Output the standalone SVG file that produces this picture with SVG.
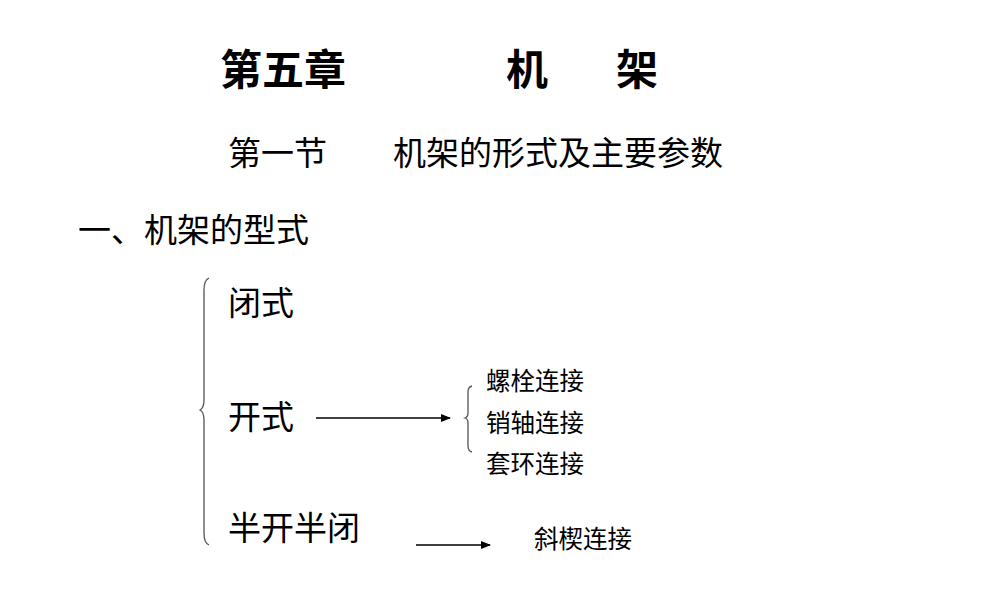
<svg xmlns="http://www.w3.org/2000/svg" width="1000" height="600" viewBox="0 0 1000 600">
<style>
text{font-family:"Noto Sans CJK SC","Noto Sans",sans-serif;fill:#000}
.t{font-size:42px;font-weight:bold}
.m{font-size:33px}
.s{font-size:24.5px}
.ln{stroke:#000;stroke-width:1.3;fill:none}
.br{stroke:#555;stroke-width:1.3;fill:none}
</style>
<defs><marker id="a" markerWidth="10" markerHeight="8" refX="9" refY="4" orient="auto" markerUnits="userSpaceOnUse"><path d="M0,0L10,4L0,8z" fill="#000"/></marker></defs>
<rect width="1000" height="600" fill="#fff"/>
<g id="title"><text class="t" x="220" y="85">第五章</text><text class="t" x="506" y="85">机</text><text class="t" x="616" y="85">架</text></g>
<g id="section"><text class="m" x="228" y="165">第一节</text><text class="m" x="393" y="165">机架的形式及主要参数</text></g>
<g id="heading"><text class="m" x="78" y="242">一、机架的型式</text></g>
<g id="n1"><text class="m" x="228" y="315">闭式</text></g>
<g id="n2"><text class="m" x="228" y="429">开式</text></g>
<g id="n3"><text class="m" x="228" y="540">半开半闭</text></g>
<g id="n4"><text class="s" x="486" y="390">螺栓连接</text></g>
<g id="n5"><text class="s" x="486" y="432">销轴连接</text></g>
<g id="n6"><text class="s" x="486" y="473">套环连接</text></g>
<g id="n7"><text class="s" x="534" y="548">斜楔连接</text></g>
<g id="connectors">
<path class="br" d="M209,278 Q204,280 204,290 L204,400 Q204,408 200,410 Q204,412 204,420 L204,533 Q204,543 209,545"/>
<path class="br" d="M472,386 Q468,387 468,392 L468,413 Q468,417 465,418 Q468,419 468,423 L468,446 Q468,451 472,452"/>
<line class="ln" x1="316" y1="418" x2="450" y2="418" marker-end="url(#a)"/>
<line class="ln" x1="416" y1="545" x2="490" y2="545" marker-end="url(#a)"/>
</g>
</svg>
